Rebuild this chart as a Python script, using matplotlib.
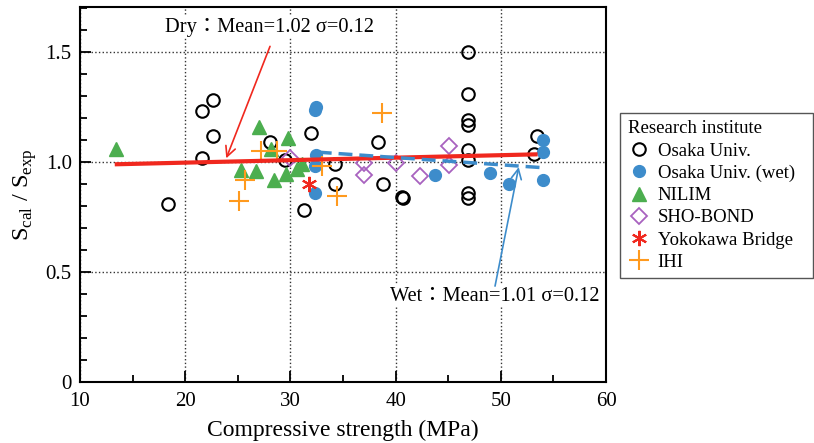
import matplotlib
matplotlib.use("Agg")
from matplotlib import pyplot as plt
from matplotlib.ticker import MultipleLocator

# ---- data ----
osaka_x = [18.4, 21.6, 22.6, 22.6, 21.6, 28.1, 29.5, 32.0, 31.3, 34.2, 34.2, 38.3, 38.8,
           40.6, 40.7, 46.9, 46.9, 46.9, 46.9, 46.9, 46.9, 46.9, 46.9, 53.4, 53.2]
osaka_y = [0.81, 1.23, 1.28, 1.12, 1.02, 1.09, 1.01, 1.13, 0.78, 0.99, 0.90, 1.09, 0.90,
           0.84, 0.835, 1.50, 1.31, 1.19, 1.17, 1.055, 1.01, 0.86, 0.835, 1.12, 1.035]

wet_x = [32.4, 32.3, 32.4, 32.3, 32.3, 43.7, 49.0, 50.8, 54.0, 54.0, 54.0]
wet_y = [1.25, 1.235, 1.03, 0.98, 0.86, 0.94, 0.95, 0.90, 1.10, 1.047, 0.92]

nilim_x = [13.4, 25.3, 26.7, 27.0, 28.2, 28.4, 29.6, 29.8, 30.6, 31.1]
nilim_y = [1.06, 0.965, 0.96, 1.16, 1.06, 0.92, 0.945, 1.11, 0.97, 0.99]

sho_x = [30.0, 37.0, 37.0, 40.0, 42.3, 45.1, 45.1]
sho_y = [1.017, 0.994, 0.94, 0.994, 0.935, 1.073, 0.988]

yoko_x = [31.8]
yoko_y = [0.90]

ihi_x = [27.2, 28.7, 25.7, 25.1, 33.0, 34.4, 38.7]
ihi_y = [1.05, 1.05, 0.92, 0.825, 0.98, 0.847, 1.224]

dry_fit_x = [13.5, 53.3]
dry_fit_y = [0.99, 1.035]
wet_fit_x = [32.6, 53.8]
wet_fit_y = [1.045, 0.975]

dry_text = "Dry：Mean=1.02 σ=0.12"
wet_text = "Wet：Mean=1.01 σ=0.12"

RED = "#f0281e"
BLUE = "#3d8ccb"
GREEN = "#4cae4f"
PURPLE = "#a862bf"
ORANGE = "#ff9a1e"

plt.rcParams['font.family'] = ['Liberation Serif', 'Noto Sans CJK JP']
plt.rcParams['mathtext.fontset'] = 'custom'
plt.rcParams['mathtext.rm'] = 'Liberation Serif'

fig = plt.figure(figsize=(8.14, 4.43), dpi=100)
ax = fig.add_axes([0.0983, 0.1377, 0.6462, 0.8465])

ax.plot(osaka_x, osaka_y, linestyle='none', marker='o', ms=9, mfc='none', mec='black',
        mew=1.5, label='Osaka Univ.', zorder=3)
ax.plot(wet_x, wet_y, linestyle='none', marker='o', ms=8.5, mfc=BLUE, mec=BLUE,
        label='Osaka Univ. (wet)', zorder=3)
ax.plot(nilim_x, nilim_y, linestyle='none', marker='^', ms=9.5, mfc=GREEN, mec=GREEN,
        label='NILIM', zorder=3)
ax.plot(sho_x, sho_y, linestyle='none', marker='D', ms=8, mfc='none', mec=PURPLE,
        mew=1.3, label='SHO-BOND', zorder=3)
ax.plot(yoko_x, yoko_y, linestyle='none', marker=(6, 2, 0), ms=11, mec=RED,
        mew=1.5, label='Yokokawa Bridge', zorder=3)
ax.plot(ihi_x, ihi_y, linestyle='none', marker='+', ms=14, mec=ORANGE,
        mew=1.5, label='IHI', zorder=3)

ax.plot(dry_fit_x, dry_fit_y, color=RED, lw=3, zorder=4)
ax.plot(wet_fit_x, wet_fit_y, color=BLUE, lw=2.5, dashes=(4, 2), zorder=4)

# annotations
ax.text(27.97, 1.614, dry_text, ha='center', va='center', fontsize=14.7, zorder=5,
        bbox=dict(facecolor='white', edgecolor='none', pad=1))
ax.annotate('', xy=(23.9, 1.017), xytext=(28.06, 1.526),
            arrowprops=dict(arrowstyle='->', color=RED, lw=1.2, mutation_scale=18,
                            shrinkA=0, shrinkB=0), zorder=5)
ax.text(49.45, 0.391, wet_text, ha='center', va='center', fontsize=14.7, zorder=5,
        bbox=dict(facecolor='white', edgecolor='none', pad=1))
ax.annotate('', xy=(51.7, 0.977), xytext=(49.45, 0.436),
            arrowprops=dict(arrowstyle='->', color=BLUE, lw=1.2, mutation_scale=18,
                            shrinkA=0, shrinkB=0), zorder=5)

ax.set_xlim(10, 60)
ax.set_ylim(0, 1.705)
ax.xaxis.set_major_locator(MultipleLocator(10))
ax.xaxis.set_minor_locator(MultipleLocator(5))
ax.set_yticks([0, 0.5, 1.0, 1.5])
ax.set_yticklabels(['0', '0.5', '1.0', '1.5'])
ax.yaxis.set_minor_locator(MultipleLocator(0.1))
ax.tick_params(which='both', direction='in', labelsize=15, width=1.3)
ax.tick_params(which='major', length=8)
ax.tick_params(which='minor', length=5)
ax.tick_params(axis='x', which='both', pad=7.5)
ax.tick_params(axis='y', which='both', pad=6)
ax.grid(True, which='major', linestyle=':', color='#333333', lw=1)
ax.set_axisbelow(True)
for s in ax.spines.values():
    s.set_linewidth(1.5)

ax.set_xlabel('Compressive strength (MPa)', fontsize=17)
ax.xaxis.set_label_coords(0.5, -0.1)
ax.set_ylabel(r'S$_{\rm cal}$ / S$_{\rm exp}$', fontsize=17.5)
ax.yaxis.set_label_coords(-0.078, 0.5)

leg = ax.legend(loc='upper left', bbox_to_anchor=(0.7617, 0.375, 0.237, 0.37),
                bbox_transform=fig.transFigure, mode='expand', title='Research institute',
                fontsize=13.5, title_fontsize=13.5, alignment='left',
                fancybox=False, edgecolor='#555555', framealpha=1,
                labelspacing=0.27, handletextpad=0.4, handlelength=1.2,
                borderpad=0.4, borderaxespad=0)
leg.get_frame().set_linewidth(1.0)

fig.savefig('out.png', dpi=100)
